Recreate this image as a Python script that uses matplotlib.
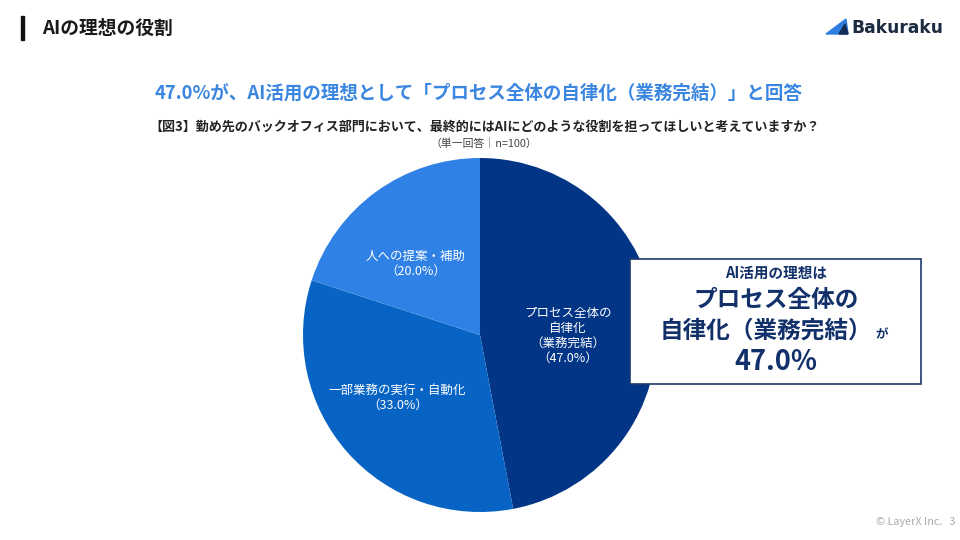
import matplotlib
matplotlib.use("Agg")
import matplotlib.pyplot as plt
import numpy as np
from matplotlib.patches import Rectangle, Polygon

plt.rcParams['font.family'] = ['Noto Sans CJK JP', 'DejaVu Sans']

categories = ["プロセス全体の\n自律化\n（業務完結）", "一部業務の実行・自動化", "人への提案・補助"]
values = [47.0, 33.0, 20.0]
colors = ["#023586", "#0864C4", "#2F81E6"]

W, H = 960, 540
fig = plt.figure(figsize=(9.6, 5.4), dpi=100)
fig.patch.set_facecolor("white")

def px(x, y):
    return x / W, 1 - y / H

# header
fig.patches.append(Rectangle(px(21, 40), 3 / W, 24 / H, transform=fig.transFigure,
                             color="#111111", zorder=5))
fig.text(*px(42, 28), "AIの理想の役割", fontsize=13.5, fontweight="bold",
         color="#1a1a1a", va="center", ha="left")

# logo
tri = Polygon([px(826, 34), px(848, 34), px(846, 19)], closed=True,
              transform=fig.transFigure, color="#2F7FE0", zorder=5)
fig.patches.append(tri)
tri2 = Polygon([px(839, 34), px(848, 34), px(845, 24)], closed=True,
               transform=fig.transFigure, color="#152B55", zorder=6)
fig.patches.append(tri2)
fig.text(*px(851, 28), "Bakuraku", fontsize=12.3, fontweight="bold",
         color="#1c2b40", va="center", ha="left", family=["DejaVu Sans"])

# titles
fig.text(*px(479, 93), "47.0%が、AI活用の理想として「プロセス全体の自律化（業務完結）」と回答",
         fontsize=13.3, fontweight="bold", color="#3A86E0", ha="center", va="center")
fig.text(*px(485, 127), "【図3】勤め先のバックオフィス部門において、最終的にはAIにどのような役割を担ってほしいと考えていますか？",
         fontsize=9.4, fontweight="bold", color="#222222", ha="center", va="center")
fig.text(*px(484, 144), "（単一回答｜n=100）", fontsize=7.8, color="#444444",
         ha="center", va="center")

# pie
cx, cy, r = 480, 335, 177
ax = fig.add_axes([(cx - r) / W, (H - cy - r) / H, 2 * r / W, 2 * r / H])
wedges, _ = ax.pie(values, colors=colors, startangle=90, counterclock=False,
                   wedgeprops=dict(linewidth=0))
ax.set_aspect("equal")
ax.set_xlim(-1, 1)
ax.set_ylim(-1, 1)
ax.axis("off")

label_r = [0.50, 0.57, 0.55]
label_shift = [(0.0, -0.05), (-0.04, 0.02), (-0.04, -0.04)]
for w, cat, v, lr, (dx, dy) in zip(wedges, categories, values, label_r, label_shift):
    ang = np.deg2rad((w.theta1 + w.theta2) / 2)
    ax.text(lr * np.cos(ang) + dx, lr * np.sin(ang) + dy, f"{cat}\n（{v:.1f}%）",
            ha="center", va="center", fontsize=9, color="white", linespacing=1.2)

# callout box
fig.patches.append(Rectangle(px(630, 384), 291 / W, 125 / H, transform=fig.transFigure,
                             facecolor="white", edgecolor="#1B3A6B", linewidth=1.2, zorder=10))
navy = "#12306A"
fig.text(*px(776, 273), "AI活用の理想は", fontsize=10.5, fontweight="bold", color=navy,
         ha="center", va="center", zorder=11)
fig.text(*px(776, 300), "プロセス全体の", fontsize=17, fontweight="bold", color=navy,
         ha="center", va="center", zorder=11)
fig.text(*px(766, 331), "自律化（業務完結）", fontsize=17, fontweight="bold", color=navy,
         ha="center", va="center", zorder=11)
fig.text(*px(882, 335), "が", fontsize=9, fontweight="bold", color=navy,
         ha="center", va="center", zorder=11)
fig.text(*px(776, 362), "47.0%", fontsize=19.5, fontweight="bold", color=navy,
         ha="center", va="center", zorder=11)

# footer
fig.text(*px(955, 522), "© LayerX Inc.   3", fontsize=7.8, color="#aaaaaa",
         ha="right", va="center")

fig.savefig("out.png", dpi=100, facecolor="white")
